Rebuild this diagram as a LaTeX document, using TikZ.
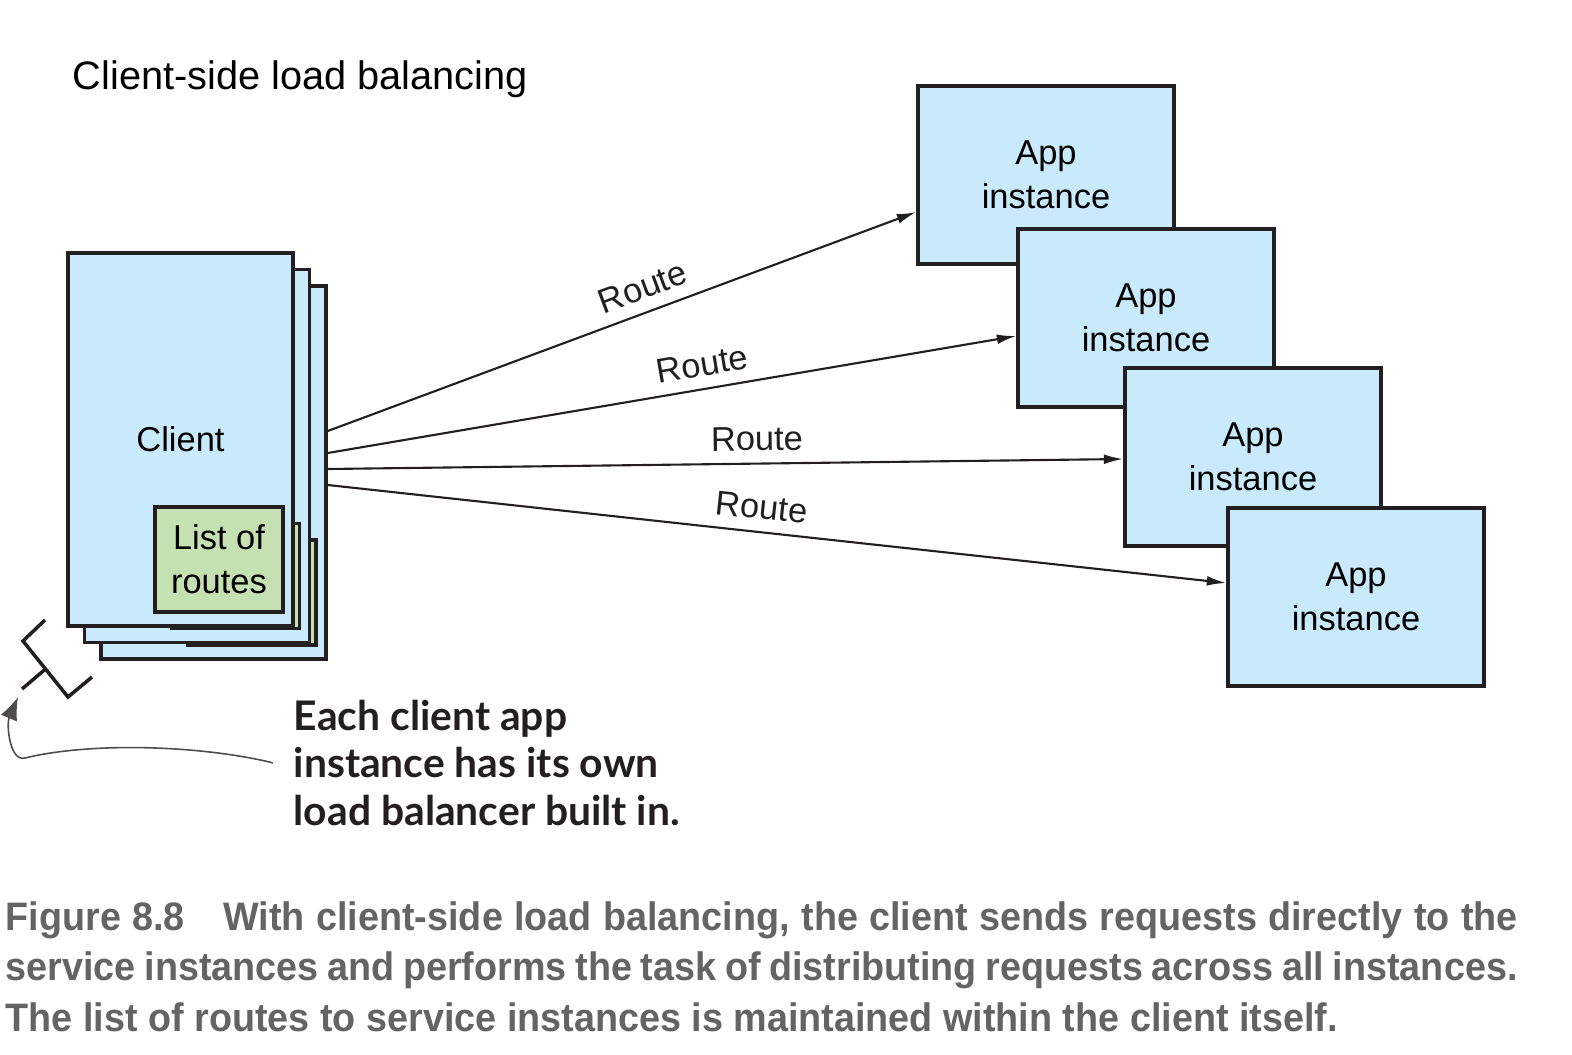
\documentclass[tikz,border=0pt]{standalone}
\usepackage{fontspec}
\setmainfont{Liberation Sans}
\newfontfamily\notefont{Lato}
\newfontfamily\capfont[FakeStretch=0.95]{Liberation Sans}
\usetikzlibrary{arrows.meta}

\definecolor{boxblue}{RGB}{200,234,250}
\definecolor{listgreen}{RGB}{197,224,177}
\definecolor{inkline}{RGB}{35,31,32}
\definecolor{capgray}{RGB}{100,100,100}

\tikzset{
  clientbox/.style={draw=inkline, line width=1pt, fill=boxblue,
    minimum width=2.25cm, minimum height=3.73cm, font=\fontsize{9.8}{12.5}\selectfont},
  listbox/.style={draw=inkline, line width=1pt, fill=listgreen,
    minimum width=1.28cm, minimum height=1.05cm, align=center, font=\fontsize{9.8}{12.5}\selectfont},
  appbox/.style={draw=inkline, line width=1pt, fill=boxblue,
    minimum width=2.56cm, minimum height=1.78cm, align=center, font=\fontsize{9.8}{12.5}\selectfont},
  route/.style={->, draw=inkline, line width=0.6pt},
  routelabel/.style={sloped, above, text=inkline, font=\fontsize{9.8}{12}\selectfont},
}

\begin{document}
\begin{tikzpicture}[x=0.01cm, y=-0.01cm, >={Latex[length=5.5pt,width=2.8pt]}]
    \useasboundingbox (0,0) rectangle (1572,1054);

    \node[anchor=base west, inner sep=0, font=\fontsize{11.3}{13}\selectfont] (title) at (72,89) {Client-side load balancing};

    % client stack, back to front
    \foreach \i in {2,1} {
        \node[clientbox] (stack\i) at ({180.5+16.5*\i},{439.5+16.5*\i}) {};
        \node[listbox] (list\i) at ({219+16.5*\i},{559.5+16.5*\i}) {};
    }
    \node[clientbox] (client) at (180.5,439.5) {Client};
    \node[listbox] (routes) at (219,559.5) {List of\\routes};

    % app instances
    \foreach \n/\x/\y in {1/1046/175, 2/1146/318, 3/1253/457, 4/1356/597}
        \node[appbox] (app\n) at (\x,\y) {App\\instance};

    \draw[route] ([yshift=4.15mm]stack2.east) -- node[routelabel, pos=0.55] {Route} ([yshift=-3.7mm]app1.west);
    \draw[route] ([yshift=1.95mm]stack2.east) -- node[routelabel, pos=0.55] {Route} ([yshift=-1.8mm]app2.west);
    \draw[route] ([yshift=0.35mm]stack2.east) -- node[routelabel, pos=0.54] {Route} ([yshift=-0.2mm]app3.west);
    \draw[route] ([yshift=-1.25mm]stack2.east) -- node[routelabel, pos=0.48] {Route} ([yshift=1.4mm]app4.west);

    % balancer symbol
    \draw[inkline, line width=1pt] (45,620) -- (23,641) -- (68,697) -- (92,677);
    \draw[inkline, line width=1pt] (45.5,669) -- (22,689);
    \coordinate (balancer) at (18,697);

    \node[anchor=base west, align=left, inner sep=0, text=inkline,
          font=\notefont\bfseries\fontsize{11.6}{13.4}\selectfont] (note) at (293,825)
        {Each client app\\instance has its own\\load balancer built in.};
    \draw[-{Latex[length=6.5pt,width=5pt]}, draw=inkline!80, line width=0.45pt] ([xshift=-2mm]note.west)
        .. controls (200,745) and (90,742) .. (25,758)
        .. controls (10,762) and (6,725) .. (balancer);

    \node[anchor=base west, align=justify, text width=15.11cm, inner sep=0, text=capgray,
          font=\capfont\bfseries\fontsize{11.3}{14.4}\selectfont] (caption) at (5,930)
        {Figure 8.8\hspace{11pt}With client-side load balancing, the client sends requests directly to the\linebreak
         service instances and performs the task of distributing requests across all instances.\linebreak
         The list of routes to service instances is maintained within the client itself.};
\end{tikzpicture}
\end{document}
